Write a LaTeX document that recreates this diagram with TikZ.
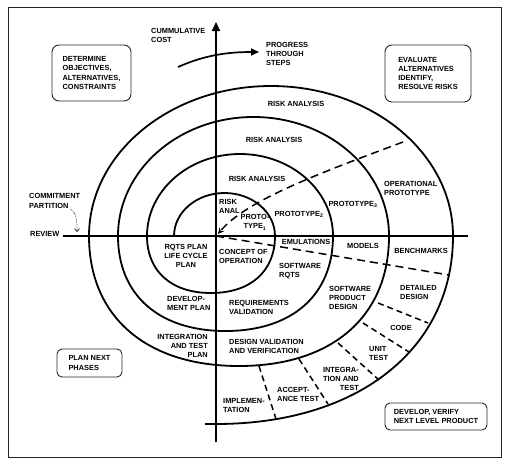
\documentclass[tikz,border=0pt]{standalone}
\usepackage{fontspec}
\setmainfont{Liberation Sans}
\usetikzlibrary{arrows.meta}
\newcommand{\lblfont}{\fontsize{7.4}{9.3}\selectfont\bfseries}
\begin{document}
\begin{tikzpicture}[x=1pt,y=1pt,yscale=-1,
  lbl/.style={inner sep=0pt, font=\lblfont, align=left, anchor=north west},
  lblc/.style={inner sep=0pt, font=\lblfont, align=center, anchor=north},
  lblr/.style={inner sep=0pt, font=\lblfont, align=right, anchor=north east},
  quadbox/.style={draw=black!85, line width=0.9pt, rounded corners=7pt, font=\lblfont, align=left, inner sep=0pt},
  spiral/.style={line width=1.8pt},
  axis/.style={line width=1.7pt},
  phase/.style={line width=1.5pt, dash pattern=on 8pt off 5pt},
  radial/.style={line width=1.5pt, dash pattern=on 6pt off 4pt}]
\useasboundingbox (0,0) rectangle (507,467);
% frame
\draw[line width=0.9pt, black!85] (8,7) rectangle (501,457);

% axes
\coordinate (vbot) at (216,442);
\coordinate (vtop) at (216,22);
\coordinate (hleft) at (63,236);
\coordinate (hright) at (468,236);
\coordinate (o) at (216,236);
\draw[axis, -{Triangle[length=9pt,width=8pt]}] (vbot) -- (vtop);
\draw[axis] (hleft) -- (hright);

% progress arrow
\coordinate (pstart) at (178,67);
\coordinate (pend) at (259,52);
\draw[line width=1.7pt, -{Triangle[length=8pt,width=7pt]}] (pstart) .. controls (205,55) and (228,52) .. (pend);

% spiral
\draw[spiral] (174,236)
  arc[start angle=180, end angle=360, x radius=50.5, y radius=43]
  .. controls (275,271.3) and (250.7,293) .. (211,293)
  .. controls (171.3,293) and (147,271.3) .. (147,236)
  arc[start angle=180, end angle=360, x radius=93, y radius=82]
  .. controls (333,294.9) and (292.2,331) .. (225.5,331)
  .. controls (158.9,331) and (118,294.9) .. (118,236)
  arc[start angle=180, end angle=360, x radius=135.5, y radius=119]
  .. controls (389,316.6) and (332,366) .. (239,366)
  .. controls (146,366) and (89,316.6) .. (89,236)
  arc[start angle=180, end angle=360, x radius=182, y radius=150]
  .. controls (453,348.8) and (358.2,424) .. (216,424) -- (205,424);

% phase dashed lines
\coordinate (d1) at (403,142);
\coordinate (d1end) at (218,234);
\draw[phase, -{Stealth[length=6pt,width=6pt]}] (d1) .. controls (323,172) and (246,200) .. (d1end);
\coordinate (d2) at (449,275);
\draw[phase] (o) -- (d2);

% radial dashed lines
\coordinate (r1a) at (378,303); \coordinate (r1b) at (428,323);
\coordinate (r2a) at (363,323); \coordinate (r2b) at (409,352);
\coordinate (r3a) at (338,343); \coordinate (r3b) at (379,380);
\coordinate (r4a) at (299,359); \coordinate (r4b) at (328,404);
\coordinate (r5a) at (259,366); \coordinate (r5b) at (276,419);
\draw[radial] (r1a) -- (r1b);
\draw[radial] (r2a) -- (r2b);
\draw[radial] (r3a) -- (r3b);
\draw[radial] (r4a) -- (r4b);
\draw[radial] (r5a) -- (r5b);

% commitment arrow
\coordinate (cstart) at (70,209);
\coordinate (cend) at (77,232);
\draw[line width=0.6pt, densely dotted, -{Straight Barb[length=3pt,width=5pt]}] (cstart) .. controls (77,212) and (77,222) .. (cend);

% quadrant boxes
\node[quadbox, minimum width=79pt, minimum height=56pt] (q1) at (91.5,73) {DETERMINE\\OBJECTIVES,\\ALTERNATIVES,\\CONSTRAINTS};
\node[quadbox, minimum width=86pt, minimum height=57pt] (q2) at (428,73.5) {EVALUATE\\ALTERNATIVES\\IDENTIFY,\\RESOLVE RISKS};
\node[quadbox, rounded corners=5pt, minimum width=65pt, minimum height=28pt] (q3) at (89.5,363) {PLAN NEXT\\PHASES};
\node[quadbox, rounded corners=5pt, minimum width=102pt, minimum height=27pt] (q4) at (436,416.5) {DEVELOP, VERIFY\\NEXT LEVEL PRODUCT};

% axis labels
\node[lbl] (cost) at (151,28) {CUMMULATIVE\\COST};
\node[lbl] (prog) at (266,42) {PROGRESS\\THROUGH\\STEPS};
\node[lbl] (commit) at (29,193.5) {COMMITMENT\\PARTITION};
\node[lbl] (review) at (30,231) {REVIEW};

% upper right
\node[lblc] (ra1) at (296,101.3) {RISK ANALYSIS};
\node[lblc] (ra2) at (274,137) {RISK ANALYSIS};
\node[lblc] (ra3) at (257,176) {RISK ANALYSIS};
\node[lbl] (ra4) at (219,199) {RISK\\ANAL};
\node[lblc] (p1) at (255,214.3) {PROTO-\\TYPE\textsubscript{1}};
\node[lblc] (p2) at (299,211) {PROTOTYPE\textsubscript{2}};
\node[lblc] (p3) at (353,201) {PROTOTYPE\textsubscript{3}};
\node[lbl] (op) at (384,181) {OPERATIONAL\\PROTOTYPE};

% lower left
\node[lblc] (rqts) at (186,244) {RQTS PLAN\\LIFE CYCLE\\PLAN};
\node[lbl] (dev) at (167,296) {DEVELOP-\\MENT PLAN};
\node[lblr] (intp) at (208,334) {INTEGRATION\\AND TEST\\PLAN};

% lower right
\node[lbl] (conc) at (219,249) {CONCEPT OF\\OPERATION};
\node[lblc] (emu) at (306,239) {EMULATIONS};
\node[lbl] (swr) at (279,263) {SOFTWARE\\RQTS};
\node[lblc] (mod) at (363,243) {MODELS};
\node[lblc] (bench) at (421,248) {BENCHMARKS};
\node[lbl] (reqv) at (229,300) {REQUIREMENTS\\VALIDATION};
\node[lbl] (spd) at (329,286) {SOFTWARE\\PRODUCT\\DESIGN};
\node[lbl] (det) at (400,285) {DETAILED\\DESIGN};
\node[lbl] (dvv) at (229,339) {DESIGN VALIDATION\\AND VERIFICATION};
\node[lblc] (code) at (401,325) {CODE};
\node[lbl] (unit) at (369,346) {UNIT\\TEST};
\node[lblr] (integ) at (359,367) {INTEGRA-\\TION AND\\TEST};
\node[lbl] (acc) at (277,387) {ACCEPT-\\ANCE TEST};
\node[lbl] (impl) at (223,398) {IMPLEMEN-\\TATION};
\end{tikzpicture}
\end{document}
